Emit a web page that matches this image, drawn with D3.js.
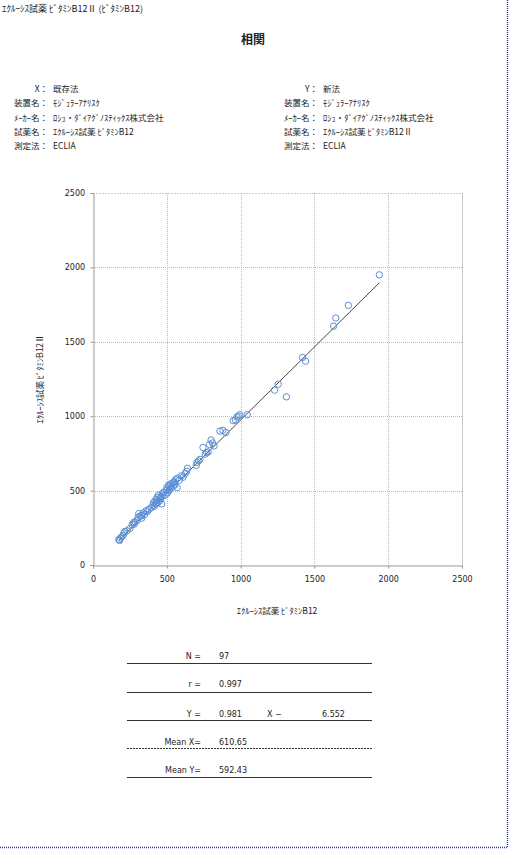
<!DOCTYPE html>
<html><head><meta charset="utf-8">
<script src="https://cdn.jsdelivr.net/npm/d3@7/dist/d3.min.js"></script>
<style>
body{margin:0;background:#fff;}
text{font-family:"DejaVu Sans","Noto Sans CJK JP",sans-serif;fill:#222;}
.jp{font-family:"Noto Sans CJK JP",sans-serif;}
</style></head><body>
<script>
// ---- data ----
const xValues = [175,185,180,195,205,210,215,230,250,265,275,285,300,305,310,320,330,340,350,360,370,380,
 395,405,410,415,420,425,430,435,440,445,450,455,460,465,470,475,480,490,495,500,505,510,515,520,525,530,540,545,550,555,560,570,575,585,600,610,625,635,640,
 700,705,715,725,745,760,770,780,790,800,810,820,860,880,900,950,965,975,985,995,1045,
 1230,1255,1310,1420,1440,1630,1645,1730,1940,
 430,460,520,545,330,280];
const yValues = [170,180,165,190,200,215,225,230,245,270,285,290,300,320,345,330,315,350,340,365,360,375,
 385,400,420,395,430,410,440,455,420,470,430,445,460,410,480,465,490,470,500,520,485,535,500,510,545,520,550,530,560,540,575,520,585,570,600,590,615,630,650,
 670,690,700,710,790,745,755,760,810,840,820,800,900,905,890,970,975,995,1000,1010,1010,
 1175,1215,1130,1395,1370,1605,1660,1745,1950,
 415,450,530,555,330,275];
const slope = 0.981, intercept = -6.552;
const axisTicks = [0,500,1000,1500,2000,2500];
const docTitle = "ｴｸﾙｰｼｽ試薬 ﾋﾞﾀﾐﾝB12Ⅱ (ﾋﾞﾀﾐﾝB12)";
const chartTitle = "相関";
const leftLabels = ["X：","装置名：","ﾒｰｶｰ名：","試薬名：","測定法："];
const leftValues = ["既存法","ﾓｼﾞｭﾗｰｱﾅﾘｽｸ","ﾛｼｭ・ﾀﾞｲｱｸﾞﾉｽﾃｨｯｸｽ株式会社","ｴｸﾙｰｼｽ試薬 ﾋﾞﾀﾐﾝB12","ECLIA"];
const rightLabels = ["Y：","装置名：","ﾒｰｶｰ名：","試薬名：","測定法："];
const rightValues = ["新法","ﾓｼﾞｭﾗｰｱﾅﾘｽｸ","ﾛｼｭ・ﾀﾞｲｱｸﾞﾉｽﾃｨｯｸｽ株式会社","ｴｸﾙｰｼｽ試薬 ﾋﾞﾀﾐﾝB12Ⅱ","ECLIA"];
const xTitle = "ｴｸﾙｰｼｽ試薬 ﾋﾞﾀﾐﾝB12";
const yTitle = "ｴｸﾙｰｼｽ試薬 ﾋﾞﾀﾐﾝB12Ⅱ";
const statLabels = ["N =","r =","Y =","Mean X=","Mean Y="];
const statValues = ["97","0.997","0.981","610.65","592.43"];

// ---- drawing ----
const W=510,H=850;
const svg=d3.select("body").append("svg").attr("width",W).attr("height",H);
svg.append("rect").attr("width",W).attr("height",H).attr("fill","#fff");

// page border (dotted blue)
svg.append("line").attr("x1",507.5).attr("x2",507.5).attr("y1",0).attr("y2",847.5)
 .attr("stroke","#2233bb").attr("stroke-width",1.3).attr("stroke-dasharray","1,1");
svg.append("line").attr("x1",0).attr("x2",507.5).attr("y1",847.5).attr("y2",847.5)
 .attr("stroke","#2233bb").attr("stroke-width",1.3).attr("stroke-dasharray","1,1");

svg.append("text").attr("class","jp").attr("x",2).attr("y",12).attr("font-size",9).text(docTitle);
svg.append("text").attr("class","jp").attr("x",253).attr("y",44).attr("text-anchor","middle")
 .attr("font-size",12).attr("font-weight","bold").text(chartTitle);

const rowY=[92,106,121,135,149];
function infoBlock(labels,values,xl){
  labels.forEach((l,i)=>{
    svg.append("text").attr("class","jp").attr("x",xl).attr("y",rowY[i]).attr("text-anchor","end").attr("font-size",8.5).text(l);
    svg.append("text").attr("class","jp").attr("x",xl+5).attr("y",rowY[i]).attr("font-size",8.5).text(values[i]);
  });
}
infoBlock(leftLabels,leftValues,48);
infoBlock(rightLabels,rightValues,318);

// scales
const x=d3.scaleLinear().domain([0,2500]).range([93,462]);
const y=d3.scaleLinear().domain([0,2500]).range([565,193]);

const g=svg.append("g");
// grid
g.selectAll(".gx").data(axisTicks.slice(1,-1)).join("line")
 .attr("x1",d=>Math.round(x(d))+0.5).attr("x2",d=>Math.round(x(d))+0.5).attr("y1",193).attr("y2",565)
 .attr("stroke","#bbb").attr("stroke-dasharray","1,1");
g.selectAll(".gy").data(axisTicks.slice(1,-1)).join("line")
 .attr("y1",d=>Math.round(y(d))+0.5).attr("y2",d=>Math.round(y(d))+0.5).attr("x1",93).attr("x2",462)
 .attr("stroke","#bbb").attr("stroke-dasharray","1,1");
// frame top/right
g.append("line").attr("x1",93).attr("x2",462.5).attr("y1",193.5).attr("y2",193.5).attr("stroke","#ccc").attr("stroke-dasharray","2,1");
g.append("line").attr("x1",462.5).attr("x2",462.5).attr("y1",193).attr("y2",565).attr("stroke","#c8c8c8");

// axes
const xa=svg.append("g").attr("transform","translate(0,565.5)")
 .call(d3.axisBottom(x).tickValues(axisTicks).tickSize(3).tickFormat(d3.format("d")));
const ya=svg.append("g").attr("transform","translate(93.5,0)")
 .call(d3.axisLeft(y).tickValues(axisTicks).tickSize(3).tickFormat(d3.format("d")));
[xa,ya].forEach(a=>{
  a.select(".domain").attr("stroke","#999");
  a.selectAll(".tick line").attr("stroke","#999");
  a.selectAll(".tick text").attr("font-size",8).attr("fill","#333").style("font-family","DejaVu Sans");
});
xa.selectAll(".tick text").attr("dy","1.3em");
ya.selectAll(".tick text").attr("dx","-0.3em");

// regression line
const xmin=d3.min(xValues), xmax=d3.max(xValues);
svg.append("line").attr("x1",x(xmin)).attr("y1",y(slope*xmin+intercept))
 .attr("x2",x(xmax)).attr("y2",y(slope*xmax+intercept)).attr("stroke","#444").attr("stroke-width",1);

// points
const pts=xValues.map((v,i)=>({x:v,y:yValues[i]}));
svg.append("g").selectAll("circle").data(pts).join("circle")
 .attr("cx",d=>x(d.x)).attr("cy",d=>y(d.y)).attr("r",3.2)
 .attr("fill","none").attr("stroke","#5b8fd6").attr("stroke-width",1);

// axis titles
svg.append("text").attr("class","jp").attr("x",277).attr("y",614).attr("text-anchor","middle").attr("font-size",8.5).text(xTitle);
svg.append("text").attr("class","jp").attr("transform","translate(43,379) rotate(-90)").attr("text-anchor","middle").attr("font-size",8.5).text(yTitle);

// stats table
const sy=[659,687,717,745,773];
const lineY=[663,692,720,748,777];
statLabels.forEach((l,i)=>{
  svg.append("text").attr("x",201).attr("y",sy[i]).attr("text-anchor","end").attr("font-size",8).text(l);
  svg.append("text").attr("x",219).attr("y",sy[i]).attr("font-size",8).text(statValues[i]);
  svg.append("line").attr("x1",127).attr("x2",372).attr("y1",lineY[i]+0.5).attr("y2",lineY[i]+0.5)
   .attr("stroke","#333").attr("stroke-width",1.2).attr("stroke-dasharray",i===3?"2,1":null);
});
svg.append("text").attr("x",267).attr("y",sy[2]).attr("font-size",8).text("X  −");
svg.append("text").attr("x",322).attr("y",sy[2]).attr("font-size",8).text(String(Math.abs(intercept)));
</script>
</body></html>
